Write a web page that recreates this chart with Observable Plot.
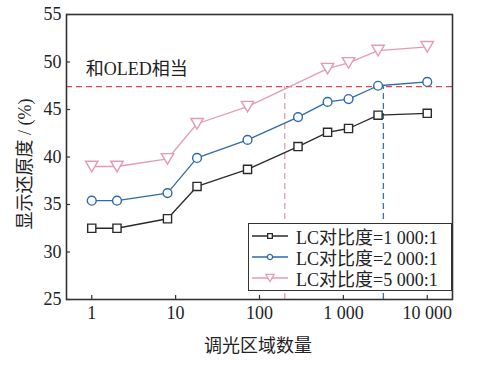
<!DOCTYPE html>
<html><head><meta charset="utf-8">
<script src="https://cdn.jsdelivr.net/npm/d3@7"></script>
<script src="https://cdn.jsdelivr.net/npm/@observablehq/plot@0.6"></script>
<style>
body{margin:0;background:#fff;}
#wrap{position:relative;width:486px;height:367px;font-family:"Liberation Serif","Noto Sans CJK SC",serif;}
#legend{position:absolute;left:248px;top:223px;width:202px;height:65px;border:1.5px solid #333;background:#fff;padding-top:1px;}
.row{display:flex;align-items:center;height:21px;font-size:18px;color:#222;white-space:nowrap;}
.row svg{margin-left:2px;margin-right:7px;}
</style></head>
<body><div id="wrap"></div>
<script>
const zones1 = [1, 2, 8, 18, 72, 288, 648, 1152, 2592, 10000];
const cr1000 = [32.5, 32.5, 33.5, 36.9, 38.7, 41.1, 42.6, 43.0, 44.4, 44.6];
const zones2 = [1, 2, 8, 18, 72, 288, 648, 1152, 2592, 10000];
const cr2000 = [35.4, 35.4, 36.2, 39.9, 41.8, 44.2, 45.8, 46.1, 47.5, 47.9];
const zones5 = [1, 2, 8, 18, 72, 648, 1152, 2592, 10000];
const cr5000 = [39.0, 39.0, 39.8, 43.5, 45.3, 49.3, 49.9, 51.2, 51.6];
const seriesNames = ["LC对比度=1 000:1", "LC对比度=2 000:1", "LC对比度=5 000:1"];
const oledLevel = 47.4;
const crossZones = [200, 3000];
const xTicks = [1, 10, 100, 1000, 10000];
const xTickLabels = ["1", "10", "100", "1 000", "10 000"];
const yTicks = [25, 30, 35, 40, 45, 50, 55];
const annotation = "和OLED相当";

const colors = ["#2a2a2a", "#2f6aa8", "#e49ab6"];
const triDown = {draw(ctx, size){ const r = Math.sqrt(size/Math.PI); const w = r*1.35, h = r*1.15;
  ctx.moveTo(-w, -h); ctx.lineTo(w, -h); ctx.lineTo(0, h); ctx.closePath(); }};
const symbols = ["square", "circle", triDown];
const radii = [4.6, 4.4, 4.6];

const series = [
  zones1.map((z,i)=>({z, v: cr1000[i]})),
  zones2.map((z,i)=>({z, v: cr2000[i]})),
  zones5.map((z,i)=>({z, v: cr5000[i]}))
];

const font = '"Liberation Serif","Noto Sans CJK SC",serif';
const marks = [
  Plot.ruleY([oledLevel], {stroke: "#e0484e", strokeWidth: 1.3, strokeDasharray: "6,4"}),
  Plot.ruleX([crossZones[0]], {y1: 25, y2: oledLevel, stroke: "#e49ab6", strokeWidth: 1.3, strokeDasharray: "6,4"}),
  Plot.ruleX([crossZones[1]], {y1: 25, y2: oledLevel, stroke: "#3b6fa5", strokeWidth: 1.3, strokeDasharray: "6,4"}),
];
series.forEach((s, k) => {
  marks.push(Plot.line(s, {x: "z", y: "v", stroke: colors[k], strokeWidth: 1.3}));
  marks.push(Plot.dot(s, {x: "z", y: "v", stroke: colors[k], fill: "white", strokeWidth: 1.4, symbol: () => symbols[k], r: radii[k]}));
});
marks.push(Plot.text([annotation], {x: 0.85, y: 49.2, text: d => d, textAnchor: "start", fontSize: 18, fill: "#222", fontFamily: font}));
marks.push(Plot.axisX({ticks: xTicks, tickFormat: d => xTickLabels[xTicks.indexOf(d)], tickSize: 0, tickPadding: 7, fontSize: 18, label: null, fill: "#222"}));
marks.push(Plot.axisX({ticks: xTicks, tickFormat: () => "", tickSize: -4, label: null, stroke: "#333", strokeWidth: 1.2}));
marks.push(Plot.axisY({ticks: yTicks, tickSize: 0, tickPadding: 5, fontSize: 18, label: null, fill: "#222"}));
marks.push(Plot.axisY({ticks: yTicks, tickFormat: () => "", tickSize: -4, label: null, stroke: "#333", strokeWidth: 1.2}));
marks.push(Plot.frame({stroke: "#333", strokeWidth: 1.6}));

const chart = Plot.plot({
  width: 486, height: 367,
  marginLeft: 66, marginRight: 34, marginTop: 14, marginBottom: 68,
  style: {fontFamily: font, fontSize: "18px", color: "#222", background: "white"},
  x: {type: "log", domain: [0.5, 20000]},
  y: {domain: [25, 55]},
  marks
});
const wrap = document.getElementById("wrap");
wrap.appendChild(chart);

// axis titles
const svg = d3.select(chart);
svg.append("text").attr("x", 258).attr("y", 352).attr("text-anchor", "middle")
  .attr("font-size", 18).attr("fill", "#222").attr("font-family", font).text("调光区域数量");
svg.append("text").attr("transform", "translate(31,164) rotate(-90)").attr("text-anchor", "middle")
  .attr("font-size", 18).attr("fill", "#222").attr("font-family", font).text("显示还原度 / (%)");

// legend
const legend = document.createElement("div");
legend.id = "legend";
seriesNames.forEach((name, k) => {
  const row = document.createElement("div"); row.className = "row";
  const s = d3.create("svg").attr("width", 38).attr("height", 20);
  s.append("line").attr("x1", 1).attr("x2", 37).attr("y1", 10).attr("y2", 10).attr("stroke", colors[k]).attr("stroke-width", 1.3);
  const sym = d3.symbol().type(k === 0 ? d3.symbolSquare : k === 1 ? d3.symbolCircle : triDown).size(k === 2 ? 30 : 22);
  s.append("path").attr("d", sym()).attr("transform", "translate(19,10)").attr("fill", "white").attr("stroke", colors[k]).attr("stroke-width", 1.3);
  row.appendChild(s.node());
  const t = document.createElement("span"); t.textContent = name; row.appendChild(t);
  legend.appendChild(row);
});
wrap.appendChild(legend);
</script></body></html>
